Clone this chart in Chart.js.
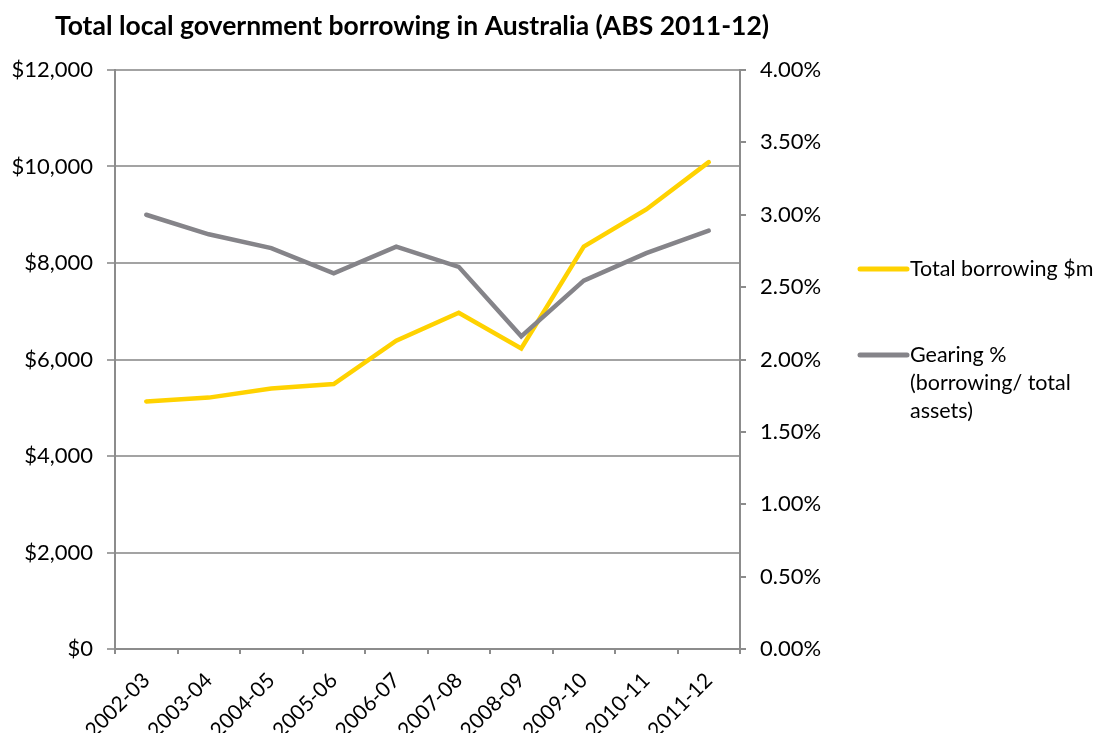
<!DOCTYPE html>
<html>
<head>
<meta charset="utf-8">
<script src="https://cdn.jsdelivr.net/npm/chart.js@4.4.1/dist/chart.umd.min.js"></script>
<style>
  html, body { margin: 0; padding: 0; background: #ffffff; }
  #wrap { width: 1113px; height: 733px; }
</style>
</head>
<body>
<div id="wrap"><canvas id="c" width="1113" height="733"></canvas></div>
<script>
// ---- data ----
const chartTitle = 'Total local government borrowing in Australia (ABS 2011-12)';
const categories = ['2002-03','2003-04','2004-05','2005-06','2006-07','2007-08','2008-09','2009-10','2010-11','2011-12'];
const borrowingLabel = 'Total borrowing $m';
const borrowing = [5130, 5210, 5400, 5490, 6390, 6970, 6230, 8340, 9110, 10090];
const gearingLabel = 'Gearing % (borrowing/ total assets)';
const gearing = [3.00, 2.865, 2.77, 2.595, 2.78, 2.64, 2.16, 2.545, 2.735, 2.89];
const leftTicks = { min: 0, max: 12000, step: 2000 };
const rightTicks = { min: 0, max: 4, step: 0.5 };

const FONT = 'Lato, "Open Sans", sans-serif';
const YELLOW = '#FFD200';
const GREY = '#858489';
const AXIS = '#8c8c8c';
const GRID = '#a3a3a3';

const titlePlugin = {
  id: 'customTitle',
  afterDraw(chart) {
    const ctx = chart.ctx;
    ctx.save();
    ctx.font = 'bold 26.5px ' + FONT;
    ctx.fillStyle = '#000';
    ctx.textAlign = 'center';
    ctx.textBaseline = 'middle';
    ctx.fillText(chartTitle, 412, 26);
    ctx.restore();
  }
};

const legendPlugin = {
  id: 'sideLegend',
  afterDraw(chart, args, opts) {
    const ctx = chart.ctx;
    ctx.save();
    ctx.font = opts.fontSize + 'px ' + FONT;
    ctx.textBaseline = 'middle';
    ctx.textAlign = 'left';
    const items = [chart.data.datasets[0], chart.data.datasets[1]];
    items.forEach((ds, i) => {
      const y = opts.rows[i];
      ctx.strokeStyle = ds.borderColor;
      ctx.lineWidth = 5;
      ctx.lineCap = 'round';
      ctx.beginPath();
      ctx.moveTo(opts.lineX0, y);
      ctx.lineTo(opts.lineX1, y);
      ctx.stroke();
      const words = ds.label.split(' ');
      const lines = [];
      let cur = '';
      words.forEach(w => {
        const test = cur ? cur + ' ' + w : w;
        if (ctx.measureText(test).width > opts.maxWidth && cur) { lines.push(cur); cur = w; }
        else cur = test;
      });
      if (cur) lines.push(cur);
      ctx.fillStyle = '#000';
      lines.forEach((ln, k) => ctx.fillText(ln, opts.textX, y + k * opts.lineHeight));
    });
    ctx.restore();
  }
};

new Chart(document.getElementById('c'), {
  type: 'line',
  data: {
    labels: categories,
    datasets: [
      { label: borrowingLabel, data: borrowing, yAxisID: 'y', borderColor: YELLOW, backgroundColor: YELLOW,
        borderWidth: 4.5, pointRadius: 0, tension: 0, order: 1, borderCapStyle: 'round' },
      { label: gearingLabel, data: gearing, yAxisID: 'y1', borderColor: GREY, backgroundColor: GREY,
        borderWidth: 4.5, pointRadius: 0, tension: 0, order: 0, borderCapStyle: 'round' }
    ]
  },
  options: {
    responsive: false,
    animation: false,
    layout: { padding: { top: 70, left: 0, right: 0, bottom: 0 } },
    plugins: {
      legend: { display: false },
      title: { display: false },
      tooltip: { enabled: false },
      sideLegend: { rows: [269, 355], lineX0: 860, lineX1: 907, textX: 910, fontSize: 21.5, lineHeight: 28, maxWidth: 195 }
    },
    scales: {
      x: {
        offset: true,
        grid: { display: true, drawOnChartArea: false, drawTicks: true, tickLength: 5, offset: true, color: AXIS, lineWidth: 2 },
        border: { display: true, color: AXIS, width: 2 },
        ticks: { color: '#000', font: { family: FONT, size: 21 }, maxRotation: 45, minRotation: 45, padding: 14, autoSkip: false },
        afterFit(scale) { scale.height = 84; }
      },
      y: {
        position: 'left',
        min: leftTicks.min, max: leftTicks.max,
        grid: { color: GRID, lineWidth: 2, tickLength: 8, drawTicks: true },
        border: { display: true, color: AXIS, width: 2 },
        ticks: { stepSize: leftTicks.step, color: '#000', font: { family: FONT, size: 22 }, padding: 14,
          callback: v => '$' + Number(v).toLocaleString('en-US') },
        afterFit(scale) { scale.width = 115; }
      },
      y1: {
        position: 'right',
        min: rightTicks.min, max: rightTicks.max,
        grid: { drawOnChartArea: false, drawTicks: true, tickLength: 6, color: AXIS, lineWidth: 2 },
        border: { display: true, color: AXIS, width: 2 },
        ticks: { stepSize: rightTicks.step, color: '#000', font: { family: FONT, size: 22 }, padding: 14,
          callback: v => Number(v).toFixed(2) + '%' },
        afterFit(scale) { scale.width = 373; }
      }
    }
  },
  plugins: [titlePlugin, legendPlugin]
});
</script>
</body>
</html>
